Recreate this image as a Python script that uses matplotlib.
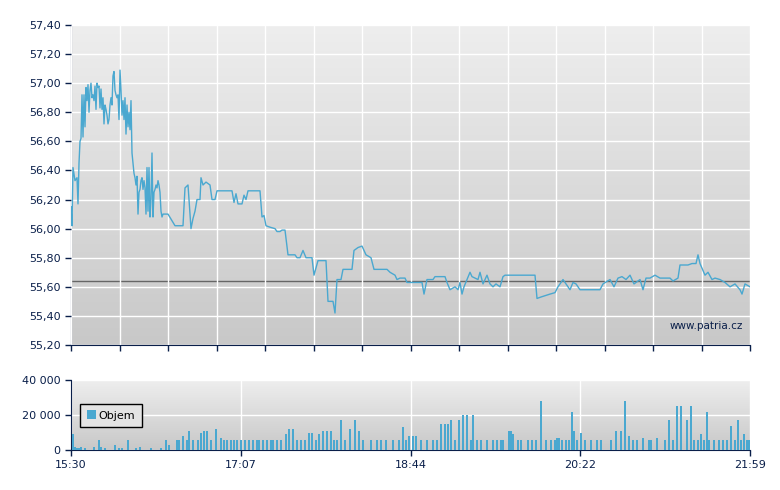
import numpy as np
import matplotlib
matplotlib.use("Agg")
import matplotlib.pyplot as plt
from matplotlib.colors import LinearSegmentedColormap

# x in session units: 0 = 15:30, 679 = 21:59
x_tick_labels = ["15:30", "17:07", "18:44", "20:22", "21:59"]
price_t = [0,1,2,4,6,7,8,9,10,11,12,13,14,15,16,17,18,19,20,21,22,23,24,25,26,27,28,29,30,31,32,33,34,35,36,37,38,39,40,41,42,43,44,45,46,47,48,49,50,51,52,53,54,55,56,57,58,59,60,61,62,63,64,65,66,67,68,69,70,71,72,73,74,75,76,77,78,79,80,81,82,83,84,85,86,87,88,89,90,91,92,97,104,112,114,117,120,122,124,126,129,130,132,135,139,141,144,146,161,163,165,167,171,173,175,177,189,191,193,195,199,204,206,209,211,214,217,224,226,229,232,235,241,243,247,255,257,262,264,266,270,272,281,283,287,291,295,300,303,316,319,324,326,329,334,336,339,351,353,356,362,364,374,376,379,384,387,389,391,393,399,401,407,409,412,416,419,422,425,429,432,434,464,466,470,479,484,487,492,495,499,502,505,509,529,532,539,543,547,551,555,559,563,569,572,575,579,584,589,599,602,607,609,613,617,621,625,627,629,634,637,641,644,649,654,659,664,669,671,674,679]
price_v = [56.15,56.02,56.42,56.33,56.35,56.17,56.45,56.60,56.62,56.92,56.63,56.92,56.70,56.97,56.88,56.99,56.80,56.95,57.00,56.90,56.92,56.88,56.98,56.82,57.00,56.97,56.98,56.83,56.96,56.82,56.90,56.72,56.85,56.82,56.78,56.72,56.75,56.85,56.90,56.85,57.05,57.08,56.95,56.92,56.90,56.92,56.75,57.09,56.95,56.78,56.88,56.75,56.90,56.65,56.85,56.70,56.80,56.68,56.88,56.52,56.45,56.38,56.35,56.30,56.36,56.10,56.25,56.27,56.33,56.35,56.27,56.33,56.28,56.10,56.42,56.12,56.42,56.08,56.20,56.52,56.08,56.25,56.27,56.30,56.28,56.33,56.30,56.25,56.12,56.08,56.10,56.10,56.02,56.02,56.28,56.30,56.00,56.07,56.12,56.20,56.20,56.35,56.30,56.32,56.30,56.20,56.20,56.26,56.26,56.18,56.24,56.17,56.17,56.23,56.20,56.26,56.26,56.08,56.09,56.02,56.01,56.00,55.98,55.98,55.99,55.99,55.82,55.82,55.80,55.80,55.85,55.80,55.80,55.68,55.78,55.78,55.50,55.50,55.42,55.65,55.65,55.72,55.72,55.85,55.87,55.88,55.82,55.80,55.72,55.72,55.70,55.68,55.65,55.66,55.66,55.63,55.63,55.63,55.55,55.65,55.65,55.67,55.67,55.63,55.58,55.60,55.58,55.63,55.55,55.60,55.70,55.67,55.65,55.70,55.62,55.68,55.62,55.60,55.62,55.60,55.67,55.68,55.68,55.52,55.53,55.55,55.56,55.60,55.65,55.62,55.58,55.63,55.62,55.58,55.58,55.62,55.65,55.60,55.66,55.67,55.65,55.68,55.62,55.65,55.58,55.66,55.66,55.68,55.66,55.66,55.64,55.66,55.75,55.75,55.75,55.76,55.76,55.82,55.76,55.68,55.70,55.65,55.66,55.65,55.63,55.60,55.62,55.58,55.55,55.62,55.60]
ref_price = 55.64
price_ticks = [55.2,55.4,55.6,55.8,56.0,56.2,56.4,56.6,56.8,57.0,57.2,57.4]

vol_t = [1,3,5,7,9,13,22,27,29,33,43,47,50,56,64,68,79,89,94,97,105,107,111,115,117,121,126,129,132,135,139,144,149,152,155,159,162,165,169,173,177,181,185,187,191,195,199,201,205,209,214,217,221,225,229,233,237,240,244,247,251,255,259,262,265,269,273,278,283,287,291,299,305,309,314,321,327,331,334,337,341,344,349,355,361,365,369,373,376,379,383,387,391,395,399,401,405,409,415,421,425,429,431,437,439,441,446,449,456,460,464,469,474,479,483,485,487,490,494,497,500,502,505,509,513,519,525,529,539,544,549,553,557,561,565,571,577,579,585,593,597,601,605,609,615,619,622,626,629,632,635,637,642,647,651,655,659,663,666,669,672,675,677,679]
vol_v = [9000,2000,1000,1000,2000,1000,2000,6000,2000,1000,3000,1000,1000,6000,1000,2000,1000,1000,6000,3000,6000,6000,8000,6000,11000,6000,6000,10000,11000,11000,6000,12000,7000,6000,6000,6000,6000,6000,6000,6000,6000,6000,6000,6000,6000,6000,6000,6000,6000,6000,9000,12000,12000,6000,6000,6000,10000,10000,6000,9000,11000,11000,11000,6000,6000,17000,6000,12000,17000,11000,6000,6000,6000,6000,6000,6000,6000,13000,6000,8000,8000,8000,6000,6000,6000,6000,15000,15000,15000,17000,6000,17000,20000,20000,6000,20000,6000,6000,6000,6000,6000,6000,6000,11000,11000,9000,6000,6000,6000,6000,6000,28000,6000,6000,6000,7000,7000,6000,6000,6000,22000,11000,6000,10000,6000,6000,6000,6000,6000,11000,11000,28000,8000,6000,6000,7000,6000,6000,7000,6000,17000,6000,25000,25000,17000,25000,6000,6000,9000,6000,22000,6000,6000,6000,6000,6000,14000,6000,17000,6000,9000,6000,6000,6000]
vol_ticks = [0, 20000, 40000]
vol_tick_labels = ["0", "20 000", "40 000"]

line_c = "#4aa8d0"
axis_c = "#0a1f4a"
cmap = LinearSegmentedColormap.from_list("bg", ["#c8c8c8", "#eeeeee"])

fig = plt.figure(figsize=(7.8, 4.9), dpi=100)
ax = fig.add_axes([71/780, 1-345/490, 679/780, 320/490])
axv = fig.add_axes([71/780, 1-450/490, 679/780, 70/490])

def bg(a):
    grad = np.linspace(0, 1, 256).reshape(-1, 1)
    a.imshow(grad, aspect="auto", cmap=cmap, origin="lower",
             extent=[0, 1, 0, 1], transform=a.transAxes, zorder=0)

for a in (ax, axv):
    bg(a)
    for s in ("top", "right"):
        a.spines[s].set_visible(False)
    for s in ("left", "bottom"):
        a.spines[s].set_color(axis_c)
    a.tick_params(colors=axis_c, labelcolor=axis_c, labelsize=8, length=4, width=1)
    a.set_xlim(0, 679)

ax.set_ylim(55.2, 57.4)
ax.set_yticks(price_ticks)
ax.set_yticklabels([f"{v:.2f}".replace(".", ",") for v in price_ticks])
ax.set_xticks(np.linspace(0, 679, 15))
ax.set_xticklabels([])
ax.grid(True, color="white", lw=1, zorder=1)
ax.set_axisbelow(False)
ax.axhline(ref_price, color="#666666", lw=1, zorder=2)
ax.plot(price_t, price_v, color=line_c, lw=1, zorder=3)
ax.text(0.99, 0.06, "www.patria.cz", transform=ax.transAxes, ha="right",
        va="center", fontsize=7.5, color=axis_c, zorder=4)

axv.set_ylim(0, 40000)
axv.set_yticks(vol_ticks)
axv.set_yticklabels(vol_tick_labels)
axv.set_xticks(np.linspace(0, 679, 5))
axv.set_xticklabels(x_tick_labels)
axv.grid(True, color="white", lw=1, zorder=1)
axv.bar(vol_t, vol_v, width=2.0, color=line_c, align="edge", zorder=3, label="Objem")
leg = axv.legend(loc="upper left", bbox_to_anchor=(0.005, 0.74), fontsize=8,
                 frameon=True, fancybox=False, handlelength=0.8, handleheight=0.8,
                 borderpad=0.6, handletextpad=0.3)
leg.get_frame().set_edgecolor("black")
leg.get_frame().set_facecolor("#e4e4e4")
leg.get_frame().set_alpha(1)
for tx in leg.get_texts():
    tx.set_color("black")

fig.savefig("out.png", dpi=100)
